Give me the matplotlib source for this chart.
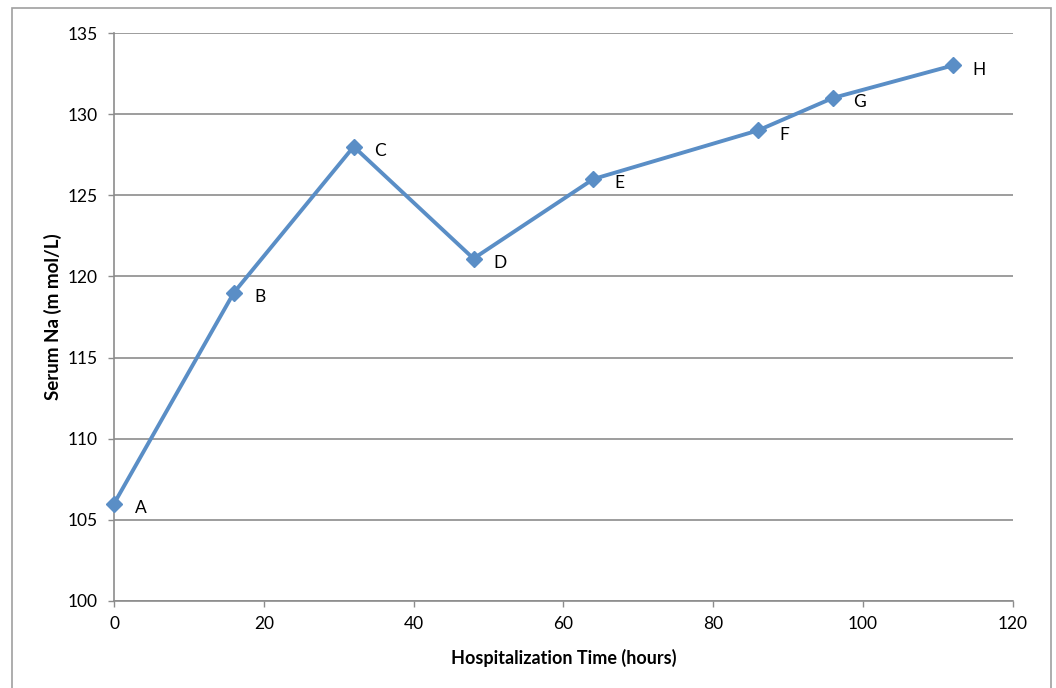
import matplotlib.pyplot as plt
from matplotlib.patches import Rectangle

hours = [0, 16, 32, 48, 64, 86, 96, 112]
sodium = [106, 119, 128, 121.1, 126, 129, 131, 133]
point_labels = ['A', 'B', 'C', 'D', 'E', 'F', 'G', 'H']

plt.rcParams['font.family'] = ['Lato', 'DejaVu Sans']

fig = plt.figure(figsize=(10.56, 6.88), dpi=100)
ax = fig.add_axes([0.108, 0.1265, 0.851, 0.8255])

# chart frame like the spreadsheet export
fig.patches.append(Rectangle((12 / 1056, -0.1), (1051 - 12) / 1056, 1 - 8 / 688 + 0.1,
                             transform=fig.transFigure, fill=False,
                             edgecolor='#a0a0a0', linewidth=1.2))

line_color = '#5a8ec6'
ax.plot(hours, sodium, color=line_color, linewidth=2.8, marker='D',
        markersize=8, markerfacecolor=line_color, markeredgecolor=line_color,
        clip_on=False, zorder=3)

for x, y, lab in zip(hours, sodium, point_labels):
    ax.annotate(lab, (x, y), xytext=(19, -3), textcoords='offset points',
                ha='center', va='center', fontsize=12.5)

ax.set_xlim(0, 120)
ax.set_ylim(100, 135)
ax.set_xticks(range(0, 121, 20))
ax.set_yticks(range(100, 136, 5))
ax.yaxis.grid(True, color='#8c8c8c', linewidth=1.2)
ax.set_axisbelow(True)

for side in ['top', 'right']:
    ax.spines[side].set_visible(False)
for side in ['left', 'bottom']:
    ax.spines[side].set_color('#8c8c8c')
    ax.spines[side].set_linewidth(1.2)

ax.tick_params(axis='both', colors='#8c8c8c', labelcolor='black',
               labelsize=12.5, length=4, width=1)
ax.tick_params(axis='y', pad=8)
ax.tick_params(axis='x', pad=7)

ax.set_xlabel('Hospitalization Time (hours)', fontsize=13, fontweight='bold', labelpad=12)
ax.set_ylabel('Serum Na (m mol/L)', fontsize=13.5, fontweight='bold', labelpad=4)

fig.savefig('out.png', dpi=100)
